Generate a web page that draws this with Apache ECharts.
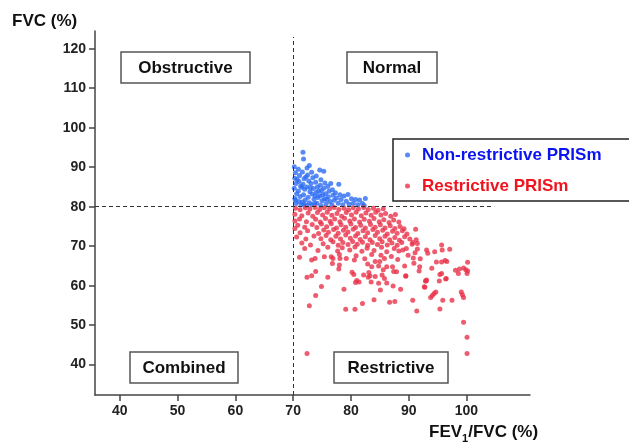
<!DOCTYPE html>
<html>
<head>
<meta charset="utf-8">
<script src="https://cdn.jsdelivr.net/npm/echarts@6/dist/echarts.min.js"></script>
<style>
  html, body { margin: 0; padding: 0; background: #fff; }
  #main { width: 629px; height: 444px; }
</style>
</head>
<body>
<div id="main"></div>
<script>
// ticks
var xTicks = [40, 50, 60, 70, 80, 90, 100];
var yTicks = [40, 50, 60, 70, 80, 90, 100, 110, 120];

// cut-offs (dashed lines)
var fevCut = 70;
var fvcCut = 80;

var seriesNames = ['Non-restrictive PRISm', 'Restrictive PRISm'];

// [FEV1/FVC, FVC]
var nonRestrictive = [
  [70.2,90.1],[70.4,88.6],[70.3,87.2],[70.5,85.9],[70.2,84.7],[70.6,83.3],[70.3,82.1],[70.5,80.8],
  [70.9,89.5],[71.1,87.9],[71.0,86.4],[71.3,85.2],[70.9,84.0],[71.2,82.6],[71.0,81.3],[71.4,80.4],
  [71.7,93.8],[71.8,92.1],[71.6,88.8],[71.9,87.1],[71.7,85.7],[72.0,84.4],[71.8,83.0],[72.1,81.7],
  [71.9,80.6],[72.4,89.8],[72.8,90.4],[72.5,88.0],[72.7,86.5],[72.4,85.0],[72.9,83.8],[72.6,82.4],
  [72.8,81.0],[73.2,88.7],[73.4,87.3],[73.1,85.9],[73.5,84.6],[73.3,83.2],[73.6,81.9],[73.2,80.5],
  [74.0,87.8],[73.9,86.2],[74.2,85.0],[74.0,83.6],[74.3,82.3],[74.1,80.9],[74.6,89.3],[74.8,86.8],
  [74.7,85.4],[74.9,84.1],[74.6,82.8],[75.0,81.5],[74.8,80.3],[75.3,89.0],[75.5,86.0],[75.3,84.7],
  [75.6,83.3],[75.4,82.0],[75.7,80.7],[76.0,85.1],[76.2,83.9],[76.5,85.9],[76.1,82.5],[76.4,81.3],
  [76.8,84.3],[76.9,82.9],[77.1,81.6],[76.7,80.4],[77.3,83.5],[77.5,82.2],[77.9,85.7],[77.8,80.9],
  [78.1,83.0],[78.3,81.8],[78.6,80.5],[78.8,82.7],[79.2,81.4],[79.5,83.1],[79.7,80.6],[80.1,82.0],
  [80.4,80.9],[80.8,81.8],[81.2,80.5],[81.5,81.7],[82.0,80.8],[82.5,82.1],[82.3,80.3],
  [70.7,86.9],[71.5,84.9],[72.2,87.5],[73.0,84.8],[73.8,82.7],[74.4,84.0],[75.1,83.0],[75.8,81.8],
  [70.4,81.6],[71.6,81.2],[72.3,80.3],[73.7,80.8]
];

var restrictive = [
  [70.4,79.6],[71.2,79.2],[72.1,79.7],[72.9,79.4],[73.8,79.8],[74.6,79.3],[75.4,79.7],[76.3,79.5],
  [77.1,79.8],[77.9,79.3],[78.8,79.6],[79.6,79.2],[80.4,79.7],[81.3,79.4],[82.2,79.8],[83.0,79.3],
  [83.9,79.6],[84.7,79.1],[85.6,79.5],
  [70.3,78.1],[71.5,77.7],[72.6,78.4],[73.4,77.6],[74.2,78.5],[75.1,77.9],[75.9,78.6],[76.7,77.8],
  [77.6,78.3],[78.4,77.6],[79.2,78.5],[80.1,77.9],[80.9,78.6],[81.8,77.7],[82.6,78.4],[83.5,77.8],
  [84.3,78.6],[85.2,77.9],[86.0,78.3],[86.9,77.6],[87.7,78.0],
  [70.3,76.4],[71.1,76.9],[72.3,76.2],[73.9,76.8],[74.7,76.1],[75.6,77.0],[76.4,76.3],[77.2,76.9],
  [78.1,76.2],[78.9,77.1],[79.8,76.4],[80.6,76.9],[81.5,76.1],[82.3,76.8],[83.2,76.3],[84.0,77.0],
  [84.9,76.2],[85.7,76.7],[86.6,76.0],[87.4,76.6],[88.3,76.1],
  [70.3,74.5],[70.8,75.3],[72.0,74.8],[73.3,75.5],[74.1,74.7],[74.9,75.6],[75.8,74.9],[76.6,75.7],
  [77.5,74.6],[78.3,75.4],[79.1,74.8],[80.0,75.6],[80.8,74.7],[81.7,75.3],[82.5,74.6],[83.4,75.5],
  [84.2,74.8],[85.1,75.4],[85.9,74.6],[86.8,75.2],[87.6,74.5],[88.5,75.0],[89.2,74.4],
  [71.2,73.4],[72.5,73.9],[74.4,73.2],[75.3,74.1],[76.1,73.5],[77.0,74.2],[77.8,73.3],[78.7,74.0],
  [79.5,73.6],[80.4,74.3],[81.2,73.2],[82.1,73.9],[82.9,73.4],[83.8,74.2],[84.6,73.5],[85.5,74.0],
  [86.3,73.1],[87.2,73.8],[88.0,73.3],[88.9,73.9],[89.7,73.1],[91.2,74.3],
  [70.6,72.3],[72.2,71.8],[73.6,72.6],[74.8,71.9],[75.7,72.7],[76.5,71.6],[77.4,72.5],[78.2,71.8],
  [79.1,72.8],[79.9,72.0],[80.8,72.6],[81.6,71.7],[82.5,72.4],[83.3,71.6],[84.2,72.7],[85.0,71.9],
  [85.9,72.5],[86.7,71.6],[87.6,72.2],[88.4,71.5],[89.3,72.4],[90.2,71.8],[91.3,71.6],
  [71.5,70.8],[73.0,70.3],[75.2,70.6],[76.9,71.1],[77.8,70.2],[78.6,70.9],[79.5,70.4],[80.3,71.2],
  [81.1,70.5],[82.0,71.0],[82.9,70.2],[83.7,70.9],[84.6,70.4],[85.4,71.1],[86.3,70.3],[87.1,70.8],
  [88.0,70.2],[88.8,70.9],[90.6,70.5],[90.7,70.9],[91.5,70.7],
  [72.0,69.4],[74.3,68.9],[76.0,69.7],[77.7,68.8],[78.5,69.6],[79.8,69.0],[80.7,69.8],[81.9,68.7],
  [82.8,69.5],[84.0,68.9],[85.3,69.7],[86.2,68.6],[87.5,69.4],[88.3,68.8],[89.0,69.0],[89.6,69.4],
  [91.1,68.3],[91.5,69.3],[93.1,69.0],[95.7,70.3],[95.8,69.0],[97.1,69.2],
  [71.1,67.2],[73.8,66.9],[75.4,67.3],[76.6,67.3],[78.0,67.9],[79.2,66.9],[80.9,67.6],[82.4,66.8],
  [83.6,67.9],[85.2,67.7],[85.8,66.9],[87.0,67.4],[88.1,66.6],[89.9,67.7],[93.3,68.2],[94.5,68.6],
  [90.8,67.0],[92.0,66.8],
  [73.2,66.5],[78.0,65.2],[77.9,64.2],[80.6,66.5],[82.9,65.5],[83.6,64.8],[84.2,66.1],[84.8,65.0],
  [94.8,66.0],[95.7,66.0],[96.3,66.4],[96.6,66.1],[94.0,64.4],[100.2,65.9],[99.5,64.5],[99.9,64.0],
  [98.8,64.2],[98.1,63.9],[100.2,63.7],
  [76.8,65.6],[76.9,66.9],[78.1,66.9],[85.0,66.1],[85.6,64.0],[86.2,64.8],[87.2,64.8],[87.9,63.5],
  [89.3,65.0],[89.5,62.4],[90.9,65.7],[91.9,64.8],[93.1,61.4],
  [72.4,62.1],[73.2,62.5],[73.9,63.6],[76.0,62.1],[74.9,59.8],[73.9,57.5],[72.8,54.9],[72.4,42.8],
  [78.8,59.1],[79.1,54.0],[80.7,54.0],[82.0,55.5],[80.2,63.4],[80.5,62.8],[81.0,61.3],[80.8,60.8],
  [81.4,60.9],[82.2,62.7],[83.1,63.3],[83.3,62.5],[83.0,62.1],[83.5,60.9],[84.0,56.4],[84.8,60.6],
  [85.1,58.9],[84.2,62.3],[85.4,62.7],[85.8,61.8],[86.2,60.7],[86.7,55.8],[87.6,56.0],[87.3,59.9],
  [87.4,63.6],[88.6,59.1],[89.5,62.5],[90.7,56.3],[91.4,53.6],[91.8,63.7],[92.7,59.7],[93.0,61.2],
  [93.8,57.0],[94.1,57.5],[94.4,58.0],[94.7,58.4],[95.4,62.8],[95.3,61.2],[95.9,56.3],[96.5,61.8],
  [95.4,54.1],[97.5,56.3],[98.6,63.1],[99.1,58.4],[99.3,57.7],[99.5,57.0],[100.1,63.1],[99.5,50.7],
  [100.1,46.9],[100.1,42.8],[95.7,63.1],[96.4,61.7],[92.9,61.2],[92.8,59.6]
];

var FONT = '"Liberation Sans", Arial, sans-serif';

function quadBox(text, x, y, w, h) {
  return {
    type: 'group',
    x: x,
    y: y,
    children: [
      { type: 'rect', shape: { x: 0, y: 0, width: w, height: h },
        style: { fill: '#fff', stroke: '#555', lineWidth: 1.5 } },
      { type: 'text', x: w / 2, y: h / 2 + 1,
        style: { text: text, fill: '#111', font: 'bold 17px ' + FONT,
                 align: 'center', verticalAlign: 'middle' } }
    ]
  };
}

var chart = echarts.init(document.getElementById('main'));

var axisCommon = {
  type: 'value',
  splitLine: { show: false },
  axisLine: { show: true, onZero: false, lineStyle: { color: '#444', width: 1.5 } },
  axisLabel: { fontSize: 14, fontWeight: 'bold', color: '#222', fontFamily: FONT, margin: 9 }
};

chart.setOption({
  animation: false,
  grid: { left: 95, right: 99, top: 31, bottom: 49 },
  xAxis: echarts.util.merge({
    min: 35.7, max: 111,
    axisTick: { show: true, customValues: xTicks, length: 6, lineStyle: { color: '#444', width: 1.5 } },
    axisLabel: { customValues: xTicks }
  }, axisCommon),
  yAxis: echarts.util.merge({
    min: 32.3, max: 124.5,
    axisTick: { show: true, customValues: yTicks, length: 6, lineStyle: { color: '#444', width: 1.5 } },
    axisLabel: { customValues: yTicks }
  }, axisCommon),
  legend: {
    orient: 'vertical',
    left: 393, top: 139,
    padding: [6, 40, 5, 12],
    itemWidth: 19, itemHeight: 5, itemGap: 11,
    icon: 'circle',
    borderColor: '#222', borderWidth: 1.5,
    textStyle: { fontSize: 17, fontWeight: 'bold', fontFamily: FONT, lineHeight: 20 },
    data: [
      { name: seriesNames[0], textStyle: { color: '#0a14f0' } },
      { name: seriesNames[1], textStyle: { color: '#f0141e' } }
    ]
  },
  series: [
    {
      name: seriesNames[0],
      type: 'scatter',
      symbolSize: 5,
      itemStyle: { color: '#2d6df2' },
      data: nonRestrictive
    },
    {
      name: seriesNames[1],
      type: 'scatter',
      symbolSize: 5,
      itemStyle: { color: '#e9324a' },
      data: restrictive,
      markLine: {
        silent: true,
        symbol: ['none', 'none'],
        label: { show: false },
        lineStyle: { color: '#333', width: 1, type: [4, 3] },
        data: [
          [{ coord: [fevCut, 32.3] }, { coord: [fevCut, 123] }],
          [{ coord: [35.7, fvcCut] }, { coord: [104.8, fvcCut] }]
        ]
      }
    }
  ],
  graphic: [
    { type: 'text', left: 12, top: 13,
      style: { text: 'FVC (%)', fill: '#111', font: 'bold 17px ' + FONT } },
    { type: 'text', left: 429, top: 424,
      style: {
        text: '{a|FEV}{s|1}{a|/FVC (%)}', fill: '#111',
        rich: {
          a: { fontSize: 17, fontWeight: 'bold', fontFamily: FONT, fill: '#111', verticalAlign: 'bottom' },
          s: { fontSize: 11, fontWeight: 'bold', fontFamily: FONT, fill: '#111', verticalAlign: 'bottom', padding: [0, 0, -3, 0] }
        }
      } },
    quadBox('Obstructive', 121, 52, 129, 31),
    quadBox('Normal', 347, 52, 90, 31),
    quadBox('Combined', 130, 352, 108, 31),
    quadBox('Restrictive', 334, 352, 114, 31)
  ]
});
</script>
</body>
</html>
